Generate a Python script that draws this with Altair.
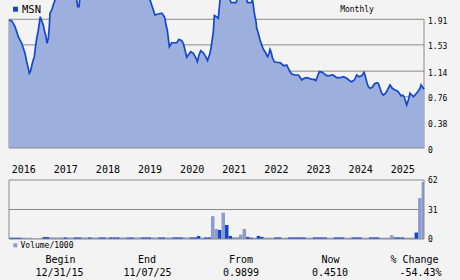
import altair as alt
import pandas as pd

# ---------------- data ----------------
price_t = [
    2015.997, 2016.061, 2016.099, 2016.139, 2016.180, 2016.218, 2016.258, 2016.299, 2016.337, 2016.377,
    2016.417, 2016.455, 2016.479, 2016.512, 2016.550, 2016.598, 2016.631, 2016.655, 2016.693, 2016.716,
    2016.740, 2016.773, 2016.811, 2016.835, 2016.875, 2016.899, 2016.930, 2016.954, 2016.970, 2017.011,
    2017.049, 2017.089, 2017.150, 2017.300, 2017.450, 2017.590, 2017.604, 2017.628, 2017.659, 2017.675,
    2017.700, 2017.850, 2018.000, 2018.300, 2018.600, 2018.900, 2019.100, 2019.300, 2019.345,
    2019.385, 2019.423, 2019.463, 2019.542, 2019.622, 2019.660, 2019.701, 2019.724, 2019.755, 2019.779,
    2019.803, 2019.860, 2019.978, 2020.033, 2020.097, 2020.135, 2020.176, 2020.216, 2020.254, 2020.311,
    2020.373, 2020.437, 2020.468, 2020.508, 2020.548, 2020.610, 2020.667, 2020.710, 2020.769, 2020.810,
    2020.848, 2020.872, 2020.929, 2020.967, 2020.991, 2021.007,
    2021.050, 2021.150, 2021.220, 2021.244, 2021.268, 2021.386, 2021.410, 2021.450, 2021.550, 2021.620,
    2021.640, 2021.659, 2021.742, 2021.778,
    2021.797, 2021.821, 2021.861, 2021.878, 2021.916, 2021.956, 2021.997, 2022.035, 2022.075, 2022.115,
    2022.139, 2022.170, 2022.194, 2022.217, 2022.248, 2022.296, 2022.353, 2022.431, 2022.471, 2022.526,
    2022.590, 2022.628, 2022.669, 2022.709, 2022.787, 2022.866, 2022.906, 2022.947, 2023.001, 2023.065,
    2023.120, 2023.184, 2023.238, 2023.279, 2023.317, 2023.364, 2023.381, 2023.435, 2023.499, 2023.540,
    2023.618, 2023.673, 2023.720, 2023.777, 2023.856, 2023.934, 2024.015, 2024.093, 2024.133, 2024.195,
    2024.252, 2024.307, 2024.371, 2024.425, 2024.449, 2024.489, 2024.527, 2024.568, 2024.622, 2024.670,
    2024.727, 2024.765, 2024.805, 2024.846, 2024.884, 2024.940, 2024.988, 2025.042, 2025.097, 2025.161,
    2025.216, 2025.263, 2025.304, 2025.344, 2025.382, 2025.415, 2025.439, 2025.477, 2025.517, 2025.558,
    2025.596, 2025.636, 2025.700, 2025.755, 2025.778, 2025.809, 2025.849,
]
price_v = [
    1.899, 1.884, 1.850, 1.800, 1.726, 1.651, 1.602, 1.553, 1.479, 1.405,
    1.280, 1.182, 1.108, 1.147, 1.257, 1.355, 1.528, 1.628, 1.751, 1.850,
    1.948, 1.889, 1.825, 1.751, 1.651, 1.553, 1.628, 1.800, 1.999, 2.047,
    2.122, 2.196, 2.350, 2.550, 2.500, 2.280, 2.196, 2.097, 2.097, 2.196,
    2.350, 2.550, 2.700, 2.800, 2.600, 2.500, 2.450, 2.300, 2.196,
    2.122, 2.047, 1.973, 1.988, 1.999, 1.973, 1.924, 1.825, 1.751, 1.628,
    1.503, 1.562, 1.562, 1.613, 1.592, 1.553, 1.454, 1.346, 1.380, 1.429,
    1.405, 1.331, 1.280, 1.380, 1.444, 1.414, 1.355, 1.298, 1.405, 1.553,
    1.726, 1.966, 1.944, 1.924, 2.097, 2.196,
    2.350, 2.400, 2.280, 2.200, 2.156, 2.156, 2.200, 2.300, 2.320, 2.250,
    2.200, 2.156, 2.156, 2.196,
    2.122, 1.999, 1.874, 1.776, 1.702, 1.602, 1.528, 1.464, 1.429, 1.380,
    1.355, 1.405, 1.464, 1.429, 1.346, 1.280, 1.272, 1.266, 1.246, 1.221,
    1.231, 1.182, 1.132, 1.098, 1.083, 1.083, 1.049, 1.009, 1.034, 1.043,
    1.034, 1.019, 1.019, 0.999, 1.058, 1.132, 1.132, 1.123, 1.093, 1.073,
    1.073, 1.088, 1.068, 1.043, 1.043, 1.058, 1.034, 0.994, 0.984, 1.009,
    1.083, 1.058, 1.073, 1.123, 1.083, 0.984, 0.909, 0.886, 0.901, 0.950,
    0.969, 0.960, 0.886, 0.812, 0.786, 0.812, 0.871, 0.935, 0.886, 0.861,
    0.846, 0.812, 0.772, 0.786, 0.752, 0.687, 0.638, 0.712, 0.812, 0.786,
    0.761, 0.786, 0.835, 0.886, 0.935, 0.909, 0.871,
]

# monthly volume (thousands), Jan 2016 .. Nov 2025
vol_values = [
    1.4, 1.4, 1.4, 1.4, 1.4, 1.4, 1.4, 0.5, 0.5, 0.5,
    2.0, 2.0, 1.7, 1.7, 1.7, 1.7, 1.7, 1.7, 1.7, 1.7,
    1.7, 1.7, 1.7, 1.7, 1.7, 1.7, 1.7, 1.7, 1.7, 1.7,
    1.7, 1.7, 1.7, 1.7, 1.7, 1.7, 1.7, 1.7, 1.7, 1.7,
    1.7, 1.7, 1.7, 1.7, 1.7, 1.7, 1.7, 1.7, 1.7, 1.7,
    1.7, 1.7, 1.7, 1.7, 3.2, 1.4, 1.7, 1.7, 24.0, 10.5,
    9.5, 27.6, 14.7, 3.2, 2.0, 2.0, 4.5, 10.5, 2.2, 1.4,
    1.4, 3.2, 2.2, 1.4, 1.4, 1.4, 1.7, 1.7, 1.4, 1.4,
    1.7, 1.7, 1.7, 1.7, 1.7, 1.4, 1.4, 1.7, 1.7, 1.7,
    1.7, 1.4, 1.4, 1.7, 1.7, 1.7, 1.4, 1.4, 1.7, 1.7,
    1.7, 1.4, 1.4, 1.7, 1.7, 1.7, 1.4, 1.4, 1.4, 4.0,
    1.7, 1.7, 1.7, 1.4, 1.4, 1.4, 6.8, 43.0, 60.0,
]
vol_up = [
    1, 1, 1, 1, 0, 0, 0, 0, 0, 0,
    1, 1, 0, 0, 0, 0, 1, 0, 0, 1,
    1, 0, 0, 1, 0, 0, 1, 1, 0, 1,
    1, 1, 0, 0, 1, 1, 0, 0, 1, 1,
    1, 0, 0, 1, 1, 0, 0, 1, 1, 1,
    0, 0, 1, 1, 1, 0, 1, 1, 0, 0,
    1, 0, 1, 1, 0, 0, 0, 0, 1, 1,
    0, 1, 1, 0, 0, 0, 1, 1, 0, 0,
    1, 1, 1, 1, 1, 0, 0, 1, 1, 1,
    1, 0, 0, 1, 1, 1, 0, 0, 1, 1,
    1, 0, 0, 1, 1, 1, 0, 0, 0, 0,
    1, 1, 1, 0, 0, 0, 1, 0, 0,
]

years = [2016, 2017, 2018, 2019, 2020, 2021, 2022, 2023, 2024, 2025]
price_ticks = [0, 0.38, 0.76, 1.14, 1.53, 1.91]
price_tick_labels = ["0", "0.38", "0.76", "1.14", "1.53", "1.91"]
vol_ticks = [0, 31, 62]
vol_tick_labels = ["0", "31", "62"]
summary_heads = ["Begin", "End", "From", "Now", "% Change"]
summary_vals = ["12/31/15", "11/07/25", "0.9899", "0.4510", "-54.43%"]

# ---------------- styling ----------------
BG = "#f3f3f3"
FILL = "#9cafdd"
LINE = "#1448cc"
DARK = "#1448cc"
LIGHT = "#8a9bcf"
GRID = "#8a8a8a"
MONO = "DejaVu Sans Mono"

T0, T1 = 2015.997, 2025.849
XS = alt.Scale(domain=[T0, T1], range=[9, 424], clamp=True, nice=False, zero=False)
PY = alt.Scale(domain=[0, 2.196], range=[148, 0], nice=False, zero=False)
VY = alt.Scale(domain=[0, 62], range=[239, 180], nice=False, zero=False)

assert len(price_t) == len(price_v)
assert len(vol_values) == len(vol_up) == 119

price_df = pd.DataFrame({"t": price_t, "v": price_v})
vt = [2016 + i / 12 for i in range(len(vol_values))]
vol_df = pd.DataFrame({
    "lo": [t - 1 / 24 for t in vt],
    "hi": [t + 1 / 24 for t in vt],
    "vol": vol_values,
    "zero": [0] * len(vol_values),
    "kind": ["up" if u else "down" for u in vol_up],
})
grid_df = pd.DataFrame({"v": price_ticks[1:], "t0": T0, "t1": T1})
frame_df = pd.DataFrame({"t": [T0, T1], "y0": [0, 0], "y1": [1.91, 1.91]})
zero_df = pd.DataFrame({"v": [0], "t0": [T0], "t1": [T1]})
ptick_df = pd.DataFrame({"v": price_ticks, "label": price_tick_labels})
vtick_df = pd.DataFrame({"v": vol_ticks, "label": vol_tick_labels})
vbox_df = pd.DataFrame({"t0": [T0], "t1": [T1], "y0": [0], "y1": [62]})
vgrid_df = pd.DataFrame({"v": [31], "t0": [T0], "t1": [T1]})
year_df = pd.DataFrame({"t": years, "label": [str(y) for y in years]})
one = pd.DataFrame({"a": [0]})

X = lambda f: alt.X(f, scale=XS, axis=None)

layers = []
# price panel
layers.append(alt.Chart(grid_df).mark_rule(color=GRID, strokeWidth=1).encode(
    x=X("t0:Q"), x2="t1:Q", y=alt.Y("v:Q", scale=PY, axis=None)))
layers.append(alt.Chart(frame_df).mark_rule(color=GRID, strokeWidth=1).encode(
    x=X("t:Q"), y=alt.Y("y0:Q", scale=PY, axis=None), y2="y1:Q"))
layers.append(alt.Chart(price_df).mark_area(color=FILL, opacity=1).encode(
    x=X("t:Q"), y=alt.Y("v:Q", scale=PY, axis=None)))
layers.append(alt.Chart(price_df).mark_line(color=LINE, strokeWidth=1.7).encode(
    x=X("t:Q"), y=alt.Y("v:Q", scale=PY, axis=None)))
layers.append(alt.Chart(zero_df).mark_rule(color=GRID, strokeWidth=1).encode(
    x=X("t0:Q"), x2="t1:Q", y=alt.Y("v:Q", scale=PY, axis=None)))
layers.append(alt.Chart(ptick_df).mark_text(align="left", baseline="middle", dy=2.5,
                                            font=MONO, fontSize=8, color="#000").encode(
    x=alt.value(428), y=alt.Y("v:Q", scale=PY, axis=None), text="label:N"))

# volume panel
layers.append(alt.Chart(vgrid_df).mark_rule(color=GRID, strokeWidth=1).encode(
    x=X("t0:Q"), x2="t1:Q", y=alt.Y("v:Q", scale=VY, axis=None)))
layers.append(alt.Chart(vol_df).mark_rect().encode(
    x=X("lo:Q"), x2="hi:Q",
    y=alt.Y("vol:Q", scale=VY, axis=None), y2="zero:Q",
    color=alt.Color("kind:N", scale=alt.Scale(domain=["up", "down"], range=[DARK, LIGHT]), legend=None)))
layers.append(alt.Chart(vbox_df).mark_rect(filled=False, color=GRID, strokeWidth=1).encode(
    x=X("t0:Q"), x2="t1:Q", y=alt.Y("y0:Q", scale=VY, axis=None), y2="y1:Q"))
layers.append(alt.Chart(vtick_df).mark_text(align="left", baseline="middle", dy=1,
                                            font=MONO, fontSize=8, color="#000").encode(
    x=alt.value(428), y=alt.Y("v:Q", scale=VY, axis=None), text="label:N"))

# year labels
layers.append(alt.Chart(year_df).mark_text(align="left", baseline="middle", dx=2.5,
                                           font=MONO, fontSize=10, color="#000").encode(
    x=X("t:Q"), y=alt.value(170), text="label:N"))

# legends / titles
layers.append(alt.Chart(one).mark_square(size=25, color=DARK, opacity=1).encode(
    x=alt.value(15.5), y=alt.value(9.2)))
layers.append(alt.Chart(one).mark_text(align="left", baseline="middle", font=MONO,
                                       fontSize=10.5, color="#000").encode(
    x=alt.value(22), y=alt.value(9.5), text=alt.value("MSN")))
layers.append(alt.Chart(one).mark_text(align="center", baseline="middle", font=MONO,
                                       fontSize=8, color="#000").encode(
    x=alt.value(357), y=alt.value(9.5), text=alt.value("Monthly")))
layers.append(alt.Chart(one).mark_square(size=16, color=LIGHT, opacity=1).encode(
    x=alt.value(15.3), y=alt.value(245.3)))
layers.append(alt.Chart(one).mark_text(align="left", baseline="middle", font=MONO,
                                       fontSize=8, color="#000").encode(
    x=alt.value(20.5), y=alt.value(245.5), text=alt.value("Volume/1000")))

# summary row
head_x = [60.5, 147, 241, 330.5, 414.5]
val_x = [59.5, 147.5, 241, 330, 420.5]
for h, v, hx, vx in zip(summary_heads, summary_vals, head_x, val_x):
    layers.append(alt.Chart(one).mark_text(align="center", baseline="middle", font=MONO,
                                           fontSize=10, color="#000").encode(
        x=alt.value(hx), y=alt.value(259.5), text=alt.value(h)))
    layers.append(alt.Chart(one).mark_text(align="center", baseline="middle", font=MONO,
                                           fontSize=10, color="#000").encode(
        x=alt.value(vx), y=alt.value(273), text=alt.value(v)))

chart = alt.layer(*layers).resolve_scale(y="independent").properties(
    width=460, height=280,
    autosize=alt.AutoSizeParams(type="none"),
    padding=0,
    background=BG,
).configure_view(strokeWidth=0)

chart.save("out.html", embed_options={"renderer": "svg", "actions": False})
